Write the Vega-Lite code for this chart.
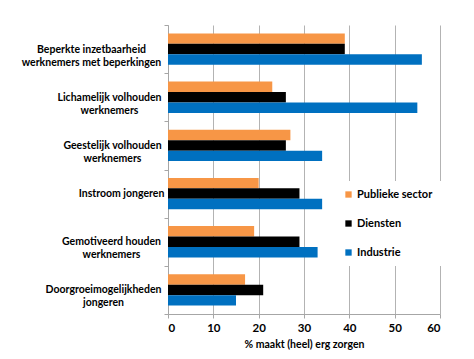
{
  "$schema": "https://vega.github.io/schema/vega-lite/v6.json",
  "width": 272,
  "height": 289,
  "autosize": {"type": "none"},
  "padding": {"left": 168, "top": 25, "right": 34, "bottom": 45},
  "background": "white",
  "config": {
    "view": {"stroke": null},
    "font": "Lato"
  },
  "data": {
    "values": [
      {"cat": "Beperkte inzetbaarheid|werknemers met beperkingen", "series": "Publieke sector", "value": 39},
      {"cat": "Beperkte inzetbaarheid|werknemers met beperkingen", "series": "Diensten", "value": 39},
      {"cat": "Beperkte inzetbaarheid|werknemers met beperkingen", "series": "Industrie", "value": 56},
      {"cat": "Lichamelijk volhouden|werknemers", "series": "Publieke sector", "value": 23},
      {"cat": "Lichamelijk volhouden|werknemers", "series": "Diensten", "value": 26},
      {"cat": "Lichamelijk volhouden|werknemers", "series": "Industrie", "value": 55},
      {"cat": "Geestelijk volhouden|werknemers", "series": "Publieke sector", "value": 27},
      {"cat": "Geestelijk volhouden|werknemers", "series": "Diensten", "value": 26},
      {"cat": "Geestelijk volhouden|werknemers", "series": "Industrie", "value": 34},
      {"cat": "Instroom jongeren", "series": "Publieke sector", "value": 20},
      {"cat": "Instroom jongeren", "series": "Diensten", "value": 29},
      {"cat": "Instroom jongeren", "series": "Industrie", "value": 34},
      {"cat": "Gemotiveerd houden|werknemers", "series": "Publieke sector", "value": 19},
      {"cat": "Gemotiveerd houden|werknemers", "series": "Diensten", "value": 29},
      {"cat": "Gemotiveerd houden|werknemers", "series": "Industrie", "value": 33},
      {"cat": "Doorgroeimogelijkheden|jongeren", "series": "Publieke sector", "value": 17},
      {"cat": "Doorgroeimogelijkheden|jongeren", "series": "Diensten", "value": 21},
      {"cat": "Doorgroeimogelijkheden|jongeren", "series": "Industrie", "value": 15}
    ]
  },
  "mark": {"type": "bar"},
  "encoding": {
    "y": {
      "field": "cat",
      "type": "nominal",
      "sort": null,
      "scale": {"paddingInner": 0, "paddingOuter": 0},
      "axis": {
        "title": null,
        "tickBand": "extent",
        "labelExpr": "datum.value ? split(datum.value, '|') : ''",
        "labelAlign": "center",
        "labelBaseline": "middle",
        "labelLineHeight": 13,
        "labelFont": "Lato",
        "labelFontSize": 10.5,
        "labelFontWeight": "bold",
        "labelColor": "#000000",
        "labelPadding": {
          "condition": [
            {"test": "datum.value == 'Beperkte inzetbaarheid|werknemers met beperkingen'", "value": 73},
            {"test": "datum.value == 'Lichamelijk volhouden|werknemers'", "value": 55},
            {"test": "datum.value == 'Geestelijk volhouden|werknemers'", "value": 52},
            {"test": "datum.value == 'Instroom jongeren'", "value": 43},
            {"test": "datum.value == 'Gemotiveerd houden|werknemers'", "value": 53}
          ],
          "value": 61
        },
        "tickSize": 4,
        "tickColor": "#a6a6a6",
        "domainColor": "#a6a6a6",
        "grid": false
      }
    },
    "yOffset": {
      "field": "series",
      "type": "nominal",
      "sort": ["Publieke sector", "Diensten", "Industrie"],
      "scale": {"paddingInner": 0, "paddingOuter": 0.8}
    },
    "x": {
      "field": "value",
      "type": "quantitative",
      "scale": {"domain": [0, 60], "nice": false},
      "axis": {
        "values": [0, 10, 20, 30, 40, 50, 60],
        "title": "% maakt (heel) erg zorgen",
        "titleFont": "Lato",
        "titleFontSize": 10.5,
        "titleFontWeight": "bold",
        "titleColor": "#000000",
        "titlePadding": 6,
        "labelFont": "Lato",
        "labelFontSize": 11.5,
        "labelFontWeight": "bold",
        "labelColor": "#000000",
        "labelPadding": 4,
        "tickSize": 4,
        "tickColor": "#a6a6a6",
        "domainColor": "#a6a6a6",
        "grid": true,
        "gridColor": "#b3b3b3"
      }
    },
    "color": {
      "field": "series",
      "type": "nominal",
      "sort": ["Publieke sector", "Diensten", "Industrie"],
      "scale": {
        "domain": ["Publieke sector", "Diensten", "Industrie"],
        "range": ["#F79646", "#000000", "#0070C0"]
      },
      "legend": {
        "title": null,
        "orient": "none",
        "legendX": 167,
        "legendY": 156,
        "fillColor": "white",
        "padding": 8,
        "symbolType": "square",
        "symbolSize": 40,
        "symbolStrokeWidth": 0,
        "labelFont": "Lato",
        "labelFontSize": 11,
        "labelFontWeight": "bold",
        "labelColor": "#000000",
        "labelOffset": 3,
        "rowPadding": 17
      }
    }
  }
}
